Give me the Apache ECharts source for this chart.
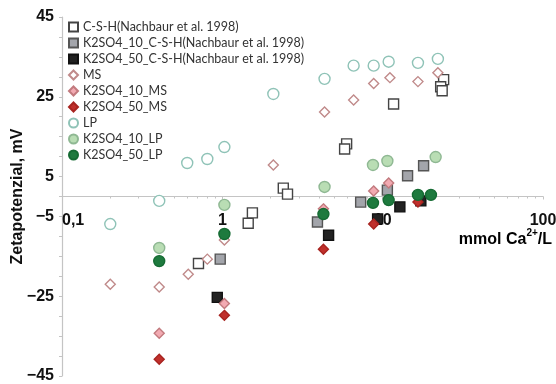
<!DOCTYPE html>
<html>
<head>
<meta charset="utf-8">
<script src="https://cdn.jsdelivr.net/npm/echarts@6/dist/echarts.min.js"></script>
<style>
  html, body { margin: 0; padding: 0; background: #fff; }
  #chart { width: 556px; height: 384px; }
</style>
</head>
<body>
<div id="chart"></div>
<script>
// 数据：x = mmol Ca2+/L, y = Zetapotenzial (mV)
var cshX = [0.71, 1.45, 1.54, 2.40, 2.55, 5.96, 5.79, 11.7, 24.0, 23.0, 23.5];
var cshY = [-16.8, -6.7, -4.1, 2.1, 0.6, 13.2, 11.9, 23.2, 29.3, 27.5, 26.5];

var csh10X = [0.97, 3.92, 7.29, 10.7, 14.3, 18.0];
var csh10Y = [-15.7, -6.4, -1.4, 1.6, 5.2, 7.7];

var csh50X = [0.93, 4.60, 9.3, 12.8, 17.3];
var csh50Y = [-25.3, -9.7, -5.6, -2.6, -1.1];

var msX = [0.20, 0.404, 0.613, 0.806, 1.03, 2.08, 4.34, 6.59, 8.79, 11.1, 16.6, 22.1];
var msY = [-22.0, -22.7, -19.5, -15.7, -10.9, 7.9, 21.2, 24.2, 28.3, 29.8, 28.8, 31.0];

var ms10X = [0.404, 1.03, 4.27, 8.79, 10.9];
var ms10Y = [-34.3, -26.8, -3.1, 1.4, 3.4];

var ms50X = [0.404, 1.03, 4.27, 8.79, 16.6];
var ms50Y = [-40.8, -29.8, -13.2, -6.9, -1.4];

var lpX = [0.20, 0.404, 0.604, 0.806, 1.03, 2.08, 4.34, 6.59, 8.79, 10.9, 16.6, 22.1];
var lpY = [-6.9, -1.1, 8.4, 9.4, 12.4, 25.7, 29.5, 32.8, 32.8, 33.8, 33.5, 34.5];

var lp10X = [0.404, 1.03, 4.34, 8.7, 10.7, 21.4];
var lp10Y = [-12.9, -2.1, 2.4, 7.9, 8.9, 9.9];

var lp50X = [0.404, 1.03, 4.27, 8.7, 10.9, 16.6, 20.0];
var lp50Y = [-16.2, -9.4, -4.4, -1.6, -0.9, 0.4, 0.4];

var yLabels = [45, 25, 5, -5, -25, -45];

function pts(xs, ys) {
  return xs.map(function (x, i) { return [x, ys[i]]; });
}

// 散点系列
function mk(name, xs, ys, symbol, size, fill, border) {
  return {
    name: name,
    type: 'scatter',
    symbol: symbol,
    symbolSize: size,
    data: pts(xs, ys),
    itemStyle: { color: fill, borderColor: border, borderWidth: 1.4, opacity: 1 }
  };
}

var chart = echarts.init(document.getElementById('chart'));

var option = {
  animation: false,
  grid: { left: 62, right: 13, top: 17, bottom: 8, outerBoundsMode: 'none', containLabel: false },
  legend: {
    orient: 'vertical',
    left: 63,
    top: 15,
    itemWidth: 9,
    itemHeight: 9,
    itemGap: 2,
    textStyle: { fontFamily: 'Lato', fontSize: 12.5, color: '#333', lineHeight: 14 },
    data: ['C-S-H(Nachbaur et al. 1998)', 'K2SO4_10_C-S-H(Nachbaur et al. 1998)',
      'K2SO4_50_C-S-H(Nachbaur et al. 1998)', 'MS', 'K2SO4_10_MS', 'K2SO4_50_MS',
      'LP', 'K2SO4_10_LP', 'K2SO4_50_LP']
  },
  xAxis: {
    type: 'log',
    logBase: 10,
    min: 0.1,
    max: 100,
    // 轴线放在 y=0 处
    offset: -179.5,
    axisLine: { onZero: false, lineStyle: { color: '#c4c4c4', width: 1.2 } },
    axisTick: { show: true, length: 3, lineStyle: { color: '#c4c4c4' } },
    minorTick: { show: true, splitNumber: 9, length: 2, lineStyle: { color: '#c4c4c4' } },
    splitLine: { show: false },
    axisLabel: {
      margin: 16,
      fontFamily: 'Liberation Sans',
      fontWeight: 'bold',
      fontSize: 16,
      color: '#111',
      alignMinLabel: 'left',
      formatter: function (v) {
        if (Math.abs(v - 0.1) < 1e-9) return '0,1';
        return String(Math.round(v));
      }
    }
  },
  yAxis: {
    type: 'value',
    min: -45,
    max: 45,
    interval: 5,
    name: 'Zetapotenzial, mV',
    nameLocation: 'middle',
    nameRotate: 90,
    nameGap: 36,
    nameMoveOverlap: false,
    nameTextStyle: { fontFamily: 'Liberation Sans', fontWeight: 'bold', fontSize: 16, color: '#111' },
    axisLine: { show: true, onZero: false, lineStyle: { color: '#c4c4c4', width: 1.2 } },
    axisTick: { show: true, length: 3, lineStyle: { color: '#c4c4c4' } },
    splitLine: { show: false },
    axisLabel: {
      margin: 8,
      fontFamily: 'Liberation Sans',
      fontWeight: 'bold',
      fontSize: 16,
      color: '#111',
      formatter: function (v) {
        return yLabels.indexOf(v) >= 0 ? String(v).replace('-', '\u2212') : '';
      }
    }
  },
  graphic: [{
    type: 'text',
    right: 4,
    top: 228,
    style: {
      text: '{a|mmol Ca}{s|2+}{a|/L}',
      rich: {
        a: { fontFamily: 'Liberation Sans', fontSize: 16, fontWeight: 'bold', color: '#111', lineHeight: 20, verticalAlign: 'bottom' },
        s: { fontFamily: 'Liberation Sans', fontSize: 10, fontWeight: 'bold', color: '#111', lineHeight: 20, verticalAlign: 'top', padding: [0, 0, 6, 0] }
      }
    }
  }],
  series: [
    mk('C-S-H(Nachbaur et al. 1998)', cshX, cshY, 'rect', 10, '#ffffff', '#444444'),
    mk('K2SO4_10_C-S-H(Nachbaur et al. 1998)', csh10X, csh10Y, 'rect', 10, '#a3a5ab', '#555555'),
    mk('K2SO4_50_C-S-H(Nachbaur et al. 1998)', csh50X, csh50Y, 'rect', 10, '#222222', '#111111'),
    mk('MS', msX, msY, 'diamond', 10, '#ffffff', '#c08a8a'),
    mk('K2SO4_10_MS', ms10X, ms10Y, 'diamond', 10, '#f2aab2', '#c27a7e'),
    mk('K2SO4_50_MS', ms50X, ms50Y, 'diamond', 10, '#c0302c', '#a82420'),
    mk('LP', lpX, lpY, 'circle', 11, '#ffffff', '#8fc3b7'),
    mk('K2SO4_10_LP', lp10X, lp10Y, 'circle', 11, '#b9ddb4', '#8fb893'),
    mk('K2SO4_50_LP', lp50X, lp50Y, 'circle', 11, '#1e7a3e', '#156b33')
  ]
};

chart.setOption(option);
</script>
</body>
</html>
